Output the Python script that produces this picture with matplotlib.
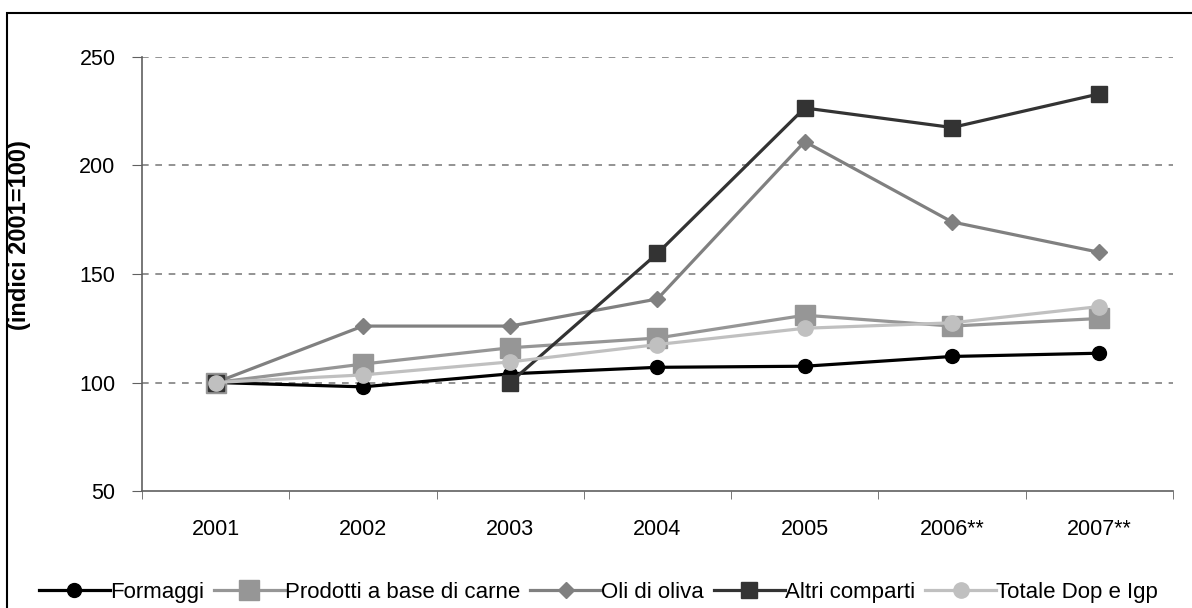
import numpy as np
import matplotlib; matplotlib.use("Agg")
import matplotlib.pyplot as plt
from matplotlib.patches import Rectangle

plt.rcParams['font.family'] = ['Liberation Sans', 'DejaVu Sans']

years = ["2001", "2002", "2003", "2004", "2005", "2006**", "2007**"]
formaggi = [100, 98, 104, 107, 107.5, 112, 113.5]
carne    = [100, 108.5, 116, 120.5, 131, 126, 129.5]
oli      = [100, 126, 126, 138.5, 211, 174, 160]
altri    = [100, np.nan, 100, 159.5, 226.5, 217.5, 233]
totale   = [100, 103.5, 109.5, 117.5, 125, 127.5, 135]

series = [
    ("Formaggi", formaggi, "#000000", "o", 10),
    ("Prodotti a base di carne", carne, "#969696", "s", 15),
    ("Oli di oliva", oli, "#808080", "D", 8),
    ("Altri comparti", altri, "#333333", "s", 11),
    ("Totale Dop e Igp", totale, "#c0c0c0", "o", 11),
]

fig = plt.figure(figsize=(11.92, 6.08), dpi=100)
ax = fig.add_axes([0.1191, 0.1924, 0.8649, 0.7139])
x = np.arange(len(years))
for name, vals, col, mk, ms in series:
    ax.plot(x, vals, color=col, lw=2.3, marker=mk, ms=ms, mec=col, mfc=col, label=name)

ax.set_xlim(-0.5, len(years) - 0.5)
ax.set_ylim(50, 250)
ax.set_yticks([50, 100, 150, 200, 250])
for v in (100, 150, 200, 250):
    ax.axhline(v, color="#808080", ls=(0, (4, 4)), lw=1.2, zorder=0)
ax.set_xticks(x)
ax.set_xticklabels(years)
ax.set_xticks(np.arange(-0.5, len(years)), minor=True)
ax.tick_params(axis="x", which="major", length=0, pad=20, labelsize=15.5)
ax.tick_params(axis="x", which="minor", length=6, direction="out", color="#606060")
ax.tick_params(axis="y", length=7, direction="out", pad=12, labelsize=15.5, color="#606060")
for s in ("top", "right"):
    ax.spines[s].set_visible(False)
for s in ("left", "bottom"):
    ax.spines[s].set_color("#606060")
    ax.spines[s].set_linewidth(1.2)

# y label sits in the frame's left margin, above the axes centre
fig.text(20 / 1192, 1 - 235 / 608, "(indici 2001=100)", rotation=90,
         ha="center", va="center", fontsize=17, fontweight="bold")

fig.legend(loc="lower center", bbox_to_anchor=(0.502, -0.024), ncol=5, frameon=False,
           fontsize=16, handlelength=3.2, handletextpad=0.0, columnspacing=0.45)

fig.patches.append(Rectangle((7 / 1192, -0.1), 1.2, 0.1 + 1 - 13 / 608,
                             transform=fig.transFigure, fill=False, ec="#000000", lw=1.5))

fig.savefig("out.png", dpi=100)
